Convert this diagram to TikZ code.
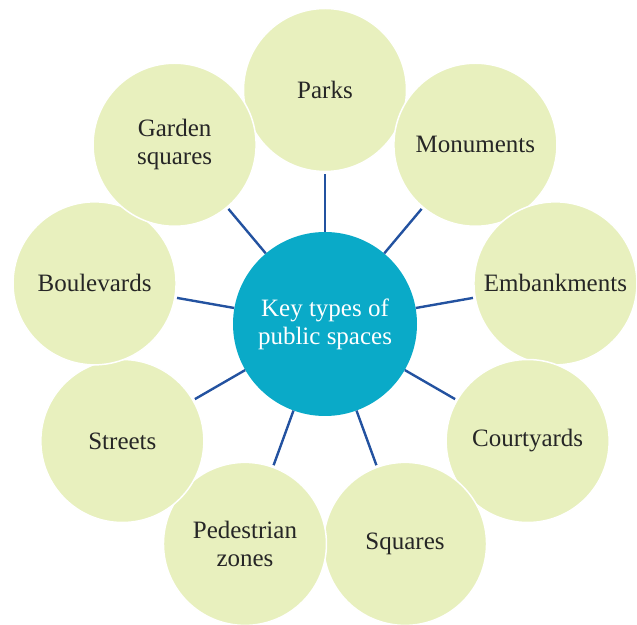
\documentclass[tikz,border=0pt]{standalone}
\usepackage{fontspec}
\setmainfont{Liberation Serif}
\usepackage{tikz}
\usetikzlibrary{arrows.meta,positioning,calc}
\definecolor{hubblue}{HTML}{0AAAC8}
\definecolor{leafgreen}{HTML}{E8F0BE}
\definecolor{linkblue}{HTML}{2352A0}
\definecolor{txtgray}{HTML}{262626}
\tikzset{
  hub/.style={circle,fill=hubblue,minimum size=184pt,inner sep=0pt,align=center,
    text=white,font=\fontsize{25}{28}\selectfont},
  leaf/.style={circle,fill=leafgreen,draw=white,line width=1.5pt,minimum size=163pt,
    inner sep=0pt,align=center,text=txtgray,font=\fontsize{25}{28}\selectfont},
  link/.style={draw=linkblue,line width=2.4pt,shorten >=1.5pt}
}

\begin{document}
\begin{tikzpicture}[x=1pt,y=1pt]
  \useasboundingbox (0,0) rectangle (637,624);
  \coordinate (mid) at (325,300);
  % outer ring, clockwise from the top
  \foreach \name/\lbl [count=\i from 0] in {parks/Parks,monu/Monuments,emb/Embankments,
      court/Courtyards,sq/Squares,ped/{Pedestrian\\zones},str/Streets,
      boul/Boulevards,gard/{Garden\\squares}}
    \node[leaf] (\name) at ($(mid)+({90-40*\i}:234)$) {\lbl};
  \node[hub] (hub) at (mid) {Key types of\\public spaces};
  \foreach \name in {parks,monu,emb,court,sq,ped,str,boul,gard}
    \draw[link] (hub) -- (\name);
\end{tikzpicture}
\end{document}
